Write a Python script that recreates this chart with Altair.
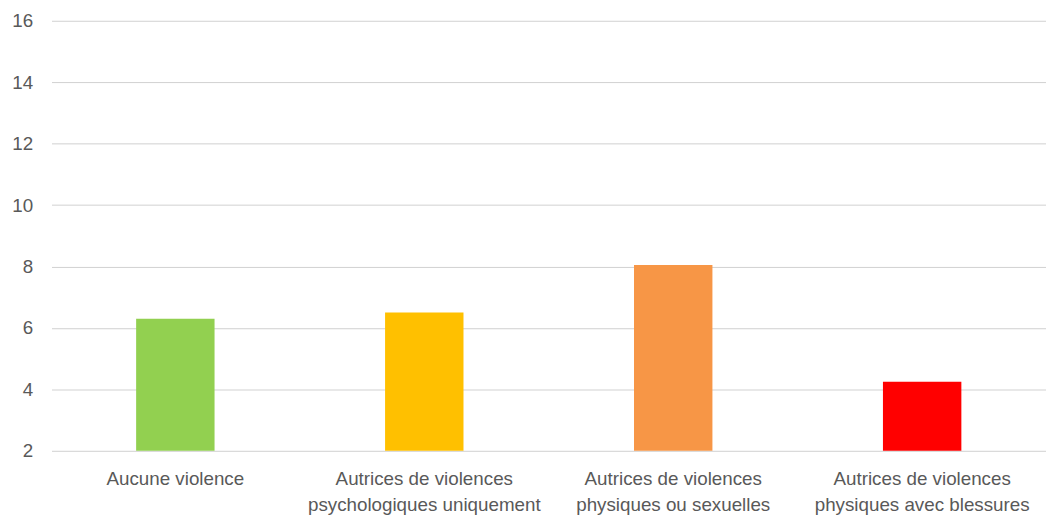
import altair as alt
import pandas as pd

categories = [
    "Aucune violence",
    "Autrices de violences|psychologiques uniquement",
    "Autrices de violences|physiques ou sexuelles",
    "Autrices de violences|physiques avec blessures",
]
values = [6.3, 6.5, 8.05, 4.25]
colors = ["#92D050", "#FFC000", "#F79646", "#FF0000"]
y_ticks = [2, 4, 6, 8, 10, 12, 14, 16]

df = pd.DataFrame({"cat": categories, "val": values, "col": colors})

font = "Liberation Sans"

chart = (
    alt.Chart(df)
    .mark_bar()
    .encode(
        x=alt.X(
            "cat:N",
            sort=categories,
            scale=alt.Scale(paddingInner=0.685, paddingOuter=0.34),
            axis=alt.Axis(
                title=None,
                labelAngle=0,
                labelExpr="split(datum.label, '|')",
                labelFont=font,
                labelFontSize=19,
                labelColor="#595959",
                labelPadding=19,
                labelLineHeight=26,
                labelLimit=400,
                ticks=False,
                domain=False,
            ),
        ),
        y=alt.Y(
            "val:Q",
            scale=alt.Scale(domain=[2, 16], clamp=True, zero=False, nice=False),
            axis=alt.Axis(
                title=None,
                values=y_ticks,
                labelFont=font,
                labelFontSize=19,
                labelColor="#595959",
                labelPadding=19,
                ticks=False,
                domain=False,
                gridColor="#D0D0D0",
                gridWidth=1,
            ),
        ),
        y2=alt.datum(2),
        color=alt.Color("col:N", scale=None, legend=None),
    )
    .properties(
        width=1006,
        height=435,
        padding={"left": 44, "top": 10, "right": 0, "bottom": 62},
        autosize=alt.AutoSizeParams(type="none"),
    )
    .configure_view(stroke=None)
)

chart.save("out.html", embed_options={"renderer": "svg", "actions": False})
